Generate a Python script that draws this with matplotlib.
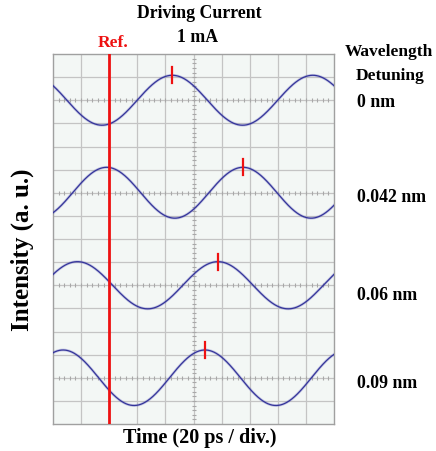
import numpy as np
import matplotlib.pyplot as plt

plt.rcParams['font.family'] = ['Liberation Serif', 'DejaVu Serif']
plt.rcParams['font.weight'] = 'bold'

# four scope traces, stacked (baseline in divisions from bottom)
detuning = ['0 nm', '0.042 nm', '0.06 nm', '0.09 nm']
baseline = [14, 10, 6, 2]
peak_ps = [84.9, 135.2, 117.4, 108.2]     # marked peak position
period_ps = [100, 97, 100, 101]
amp_div = [1.08, 1.1, 1.02, 1.2]
ref_ps = 40.0

fig = plt.figure(figsize=(4.36, 4.52), dpi=100)
ax = fig.add_axes([53/436, 1-425/452, 281/436, 370/452])
ax.set_facecolor('#f3f7f5')
ax.set_xlim(0, 200)
ax.set_ylim(0, 16)

# scope grid
for xv in np.arange(20, 200, 20):
    ax.axvline(xv, color='#c4c4c4', lw=0.9, zorder=1)
for yv in range(1, 16):
    ax.axhline(yv, color='#c4c4c4', lw=0.9, zorder=1)
tx = np.arange(0, 200.1, 4)
for b in baseline:
    ax.plot(tx, np.full_like(tx, b), ls='none', marker='|', ms=2.5,
            mew=0.8, color='#a8a8a8', zorder=2)
ty = np.arange(0, 16.01, 0.2)
ax.plot(np.full_like(ty, 100), ty, ls='none', marker='_', ms=2.5,
        mew=0.8, color='#a8a8a8', zorder=2)

t = np.linspace(0, 200, 800)
for b, pk, per, a in zip(baseline, peak_ps, period_ps, amp_div):
    y = b + a*np.cos(2*np.pi*(t - pk)/per)
    ax.plot(t, y, color='#5a5ab8', lw=2.0, alpha=0.3, zorder=3)
    ax.plot(t, y, color='#34349a', lw=0.9, zorder=4)
    ax.plot([pk, pk], [b + a - 0.35, b + a + 0.35], color='#ee1111',
            lw=1.6, zorder=5)

ax.axvline(ref_ps, color='#ee1111', lw=2.0, zorder=6)

ax.set_xticks([])
ax.set_yticks([])
for s in ax.spines.values():
    s.set_color('#a0a0a0')
    s.set_linewidth(1.0)

fig.text(199/436, 1-13/452, 'Driving Current', ha='center', va='center', fontsize=12.8)
fig.text(198/436, 1-37/452, '1 mA', ha='center', va='center', fontsize=12.8)
fig.text(113/436, 1-43/452, 'Ref.', ha='center', va='center', fontsize=12.5, color='#ee1111')
fig.text(389/436, 1-52/452, 'Wavelength', ha='center', va='center', fontsize=12.5)
fig.text(390/436, 1-76/452, 'Detuning', ha='center', va='center', fontsize=12.5)
lab_y = [103, 198, 296, 384]
for lab, yy in zip(detuning, lab_y):
    fig.text(357/436, 1-yy/452, lab, ha='left', va='center', fontsize=12.8)
fig.text(22/436, 1-250/452, 'Intensity (a. u.)', ha='center', va='center',
         rotation=90, fontsize=18)
fig.text(200/436, 1-438/452, 'Time (20 ps / div.)', ha='center', va='center', fontsize=14.5)

fig.savefig('out.png', dpi=100, facecolor='white')
